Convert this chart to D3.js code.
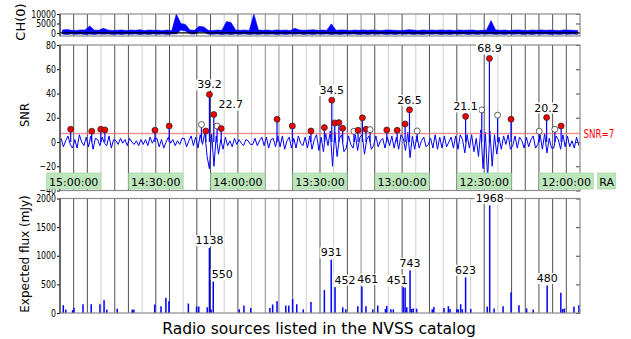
<!DOCTYPE html>
<html>
<head>
<meta charset="utf-8">
<script src="https://cdn.jsdelivr.net/npm/d3@7"></script>
<style>
body { margin: 0; background: #fff; }
svg { display: block; font-family: "DejaVu Sans", Verdana, sans-serif; }
</style>
</head>
<body>
<svg id="chart" width="631" height="339"></svg>
<script>
// RA tick labels (hh:mm:ss) and y ticks
const raLabels = ['15:00:00', '14:30:00', '14:00:00', '13:30:00', '13:00:00', '12:30:00', '12:00:00']
const chTicks = [0, 5000, 10000]
const snrTicks = [-40, -20, 0, 20, 40, 60, 80]
const fluxTicks = [0, 500, 1000, 1500, 2000]
const snrThreshold = 7

// CH(0) raw counts, upper / lower envelope per time bin (15:05 -> 11:55)
const chHi = [
	1500, 1800, 1400, 1300, 1600, 1500, 3700, 1500, 1400, 2500, 1500, 1300,
	1400, 1600, 1300, 1500, 1400, 1700, 1300, 1500, 1400, 1400, 1300, 1500,
	1200, 10000, 5000, 4500, 1500, 1400, 3500, 3200, 1400, 1300, 1500, 1400,
	6000, 5500, 1500, 1400, 1500, 1300, 10000, 1500, 1400, 1500, 1300, 1600,
	1400, 1500, 1300, 2500, 1500, 1400, 1500, 1700, 1400, 1500, 1400, 4800,
	1400, 1600, 1500, 1300, 1500, 1400, 1600, 1400, 1500, 1400, 1300, 1600,
	1500, 1400, 1300, 1400, 1700, 1500, 1300, 1500, 1400, 1500, 1400, 1600,
	1400, 1500, 1300, 1600, 1400, 1500, 1500, 1300, 1400, 1500, 6500, 1600,
	1400, 1500, 1300, 1500, 1600, 1400, 1300, 1500, 1400, 1600, 1400, 1500,
	1400, 1300, 1600, 1500, 1400, 1300
]
const chLo = [
	-600, -800, -500, -700, -500, -800, -600, -800, -500, -700, -500, -800,
	-600, -800, -500, -700, -500, -800, -600, -800, -500, -700, -500, -800,
	-500, -500, 1500, 1000, -500, -600, 800, 500, -600, -700, -500, -800,
	-600, -800, -500, -700, -500, -800, -600, -800, -500, -700, -500, -800,
	-600, -800, -500, -700, -500, -800, -600, -800, -500, -700, -500, -800,
	-600, -800, -500, -700, -500, -800, -600, -800, -500, -700, -500, -800,
	-600, -800, -500, -700, -500, -800, -600, -800, -500, -700, -500, -800,
	-600, -800, -500, -700, -500, -800, -600, -800, -500, -700, -500, -800,
	-600, -800, -500, -700, -500, -800, -600, -800, -500, -700, -500, -800,
	-600, -800, -500, -700, -500, -800
]

// SNR trace, 6 samples per 5 min of RA (15:05 -> 11:55)
const snrTrace = [
	3, -4, 1, 5, -2, -5, 2, -5, 6, 0, -3, 4, -4, 5, -6, 3, 2, -3, 4, -1, -3, 5, -5, 2,
	1, -2, 3, -1, 2, -3, 3, 0, -2, 1, -3, 2, -2, 2, -3, 4, -1, 3, 3, -4, 2, -5, 0, 4,
	-1, 2, -3, 1, -2, 3, 3, -4, 1, 5, -3, 4, -5, 6, -2, 8, -12, -22, 7, -20, 5, -10, 2, -6,
	4, -3, 1, -4, 3, -2, 2, -1, -3, 2, 1, -2, -2, 3, -3, 1, 4, -3, 4, -5, 2, 3, -4, 5,
	-4, 5, -6, 1, 4, -5, 3, -5, 5, -1, -3, 4, -5, 5, -6, 2, 6, -7, 4, -8, 7, -3, 9, -20,
	8, -12, 3, 6, -8, -5, 5, -2, -5, 6, -7, 4, 6, -10, 2, 5, -6, -3, 5, -4, 1, 3, -5, 4,
	-3, 5, -5, 4, -6, 6, 3, -7, 8, -13, 5, -6, 5, -5, 1, 4, -4, -2, 3, -5, 6, -6, 4, -5,
	5, -4, 0, 4, -5, 5, -6, 6, 2, -9, 6, -5, 6, -8, 3, -12, 10, -22, 8, -30, 9, -20, 6, -10,
	4, -6, 5, -2, 6, -6, -3, 5, -5, 4, 1, -5, 4, -4, 2, 5, -5, -2, 6, -6, 7, -9, 3, -5,
	-5, 5, 2, -6, 6, -4, 5, -4, 1, -5, 4, -3
]

// candidate peaks: RA (minutes), SNR, 1 = matched (red) / 0 = open
const peakRA = [901.1, 893.4, 890.1, 888.6, 870.3, 865.1, 853.3, 851.7, 850.4, 848.8,
	847.6, 846.1, 825.7, 820.1, 813.3, 808.4, 805.7, 804.6, 803.1, 801.7,
	797.6, 796.1, 794.5, 793.2, 791.7, 785.6, 781.8, 778.9, 777.3, 774.5,
	756.8, 750.9, 748.1, 745.1, 740.2, 729.9, 727.2, 724.2, 721.9]
const peakSNR = [10.5, 8.9, 10.5, 10.0, 9.7, 13.2, 14.4, 9.1, 39.2, 22.7,
	13.2, 11.1, 18.8, 13.2, 9.1, 11.9, 34.5, 15.7, 16.0, 11.3,
	8.9, 9.7, 19.9, 10.5, 10.2, 9.9, 9.7, 14.9, 26.5, 9.1,
	21.1, 26.5, 68.9, 22.1, 18.8, 8.9, 20.2, 10.5, 13.2]
const peakFound = [1, 1, 1, 1, 1, 1, 0, 1, 1, 1,
	0, 1, 1, 1, 1, 1, 1, 1, 1, 1,
	0, 1, 1, 1, 0, 1, 1, 1, 1, 0,
	1, 0, 1, 0, 1, 0, 1, 0, 1]

// NVSS sources: RA (minutes) and bar height in mJy
const srcRA = [903.8, 902.9, 900.4, 899.9, 896.6, 893.6, 890.4, 888.9, 887.9, 884.1,
	878.6, 878.0, 870.4, 868.1, 866.3, 865.2, 858.1, 855.1, 854.3, 851.2,
	850.4, 849.8, 849.0, 839.5, 837.8, 835.3, 828.3, 827.3, 825.7, 822.5,
	821.4, 820.0, 818.5, 816.1, 813.3, 808.4, 805.9, 804.5, 801.7, 800.6,
	796.2, 794.7, 793.2, 790.7, 788.9, 786.1, 785.6, 784.1, 783.2, 779.6,
	778.9, 778.3, 777.1, 776.5, 775.9, 774.7, 769.0, 768.4, 764.7, 763.1,
	762.5, 760.0, 759.5, 758.6, 758.0, 756.8, 754.9, 748.9, 748.0, 746.4,
	743.1, 740.2, 737.3, 734.5, 732.1, 727.0, 722.0, 721.3, 720.7, 717.2, 715.4]
const srcFlux = [136, 60, 48, 88, 153, 153, 153, 224, 60, 77,
	60, 60, 148, 118, 265, 206, 165, 112, 112, 100,
	1138, 60, 550, 65, 130, 88, 88, 148, 206, 130,
	130, 241, 153, 65, 194, 400, 931, 452, 100, 65,
	118, 461, 118, 65, 130, 70, 124, 65, 65, 451,
	445, 100, 743, 70, 80, 75, 65, 106, 88, 118,
	70, 65, 65, 153, 65, 623, 70, 112, 1880, 80,
	118, 360, 136, 80, 60, 480, 353, 70, 80, 112, 136]
// printed values of the labelled (bright) sources, left to right
const fluxTags = ['1138', '550', '931', '452', '461', '451', '743', '623', '1968', '480']

// layout / style
const gridShade = 'ddlddlddlddldlmmdldldmdldldldldlddddd'
const shadeColor = { d: '#505050', m: '#8e8e8e', l: '#cdcdcd' }
const snrLabelShift = { '22.7': 17 }
const fluxLabelShift = { '550': 9, '452': 10, '461': 6, '451': -6 }
const blue = '#0000ff'

const svg = d3.select('#chart')
const toMin = s => { const [h, m, sec] = s.split(':').map(Number); return h * 60 + m + sec / 60 }
const x = d3.scaleLinear().domain([905, 715]).range([60, 580])
const gridRA = d3.range(900, 719, -5)

const yCh = d3.scaleLinear().domain([-1600, 10000]).range([36, 14])
const ySnr = d3.scaleLinear().domain([-40, 80]).range([190.5, 45])
const yFlux = d3.scaleLinear().domain([0, 2000]).range([313, 198.5])

const panels = [
	{ key: 'ch', y: yCh, ticks: chTicks },
	{ key: 'snr', y: ySnr, ticks: snrTicks },
	{ key: 'flux', y: yFlux, ticks: fluxTicks }
]

// squeeze text horizontally (the figure's lettering is narrow)
const narrow = (sel, k) => sel.each(function () {
	this.setAttribute('textLength', this.getComputedTextLength() * k)
	this.setAttribute('lengthAdjust', 'spacingAndGlyphs')
})

// panel backgrounds + gridlines
panels.forEach(p => {
	const [yb, yt] = p.y.range()
	svg.append('clipPath').attr('id', 'clip-' + p.key)
		.append('rect').attr('x', 60).attr('y', yt).attr('width', 520).attr('height', yb - yt)
	p.plot = svg.append('g').attr('clip-path', `url(#clip-${p.key})`)
	p.plot.selectAll('line.grid')
		.data(gridRA)
		.join('line')
		.attr('x1', d => x(d)).attr('x2', d => x(d))
		.attr('y1', yt).attr('y2', yb)
		.attr('stroke', (d, i) => shadeColor[gridShade[i]])
		.attr('stroke-width', 1)
})

// CH(0): filled band between the envelopes
const pCh = panels[0]
const chW = (905 - 715) / chHi.length
pCh.plot.append('path')
	.datum(chHi.map((h, i) => ({ ra: 905 - (i + 0.5) * chW, hi: h, lo: chLo[i] })))
	.attr('fill', blue)
	.attr('stroke', blue)
	.attr('stroke-width', 0.6)
	.attr('d', d3.area().x(d => x(d.ra)).y0(d => yCh(d.lo)).y1(d => yCh(d.hi)))
pCh.plot.append('line')
	.attr('x1', 60).attr('x2', 580)
	.attr('y1', yCh(0)).attr('y2', yCh(0))
	.attr('stroke', '#000').attr('stroke-width', 1.3)

// SNR trace
const pSnr = panels[1]
const snrW = (905 - 715) / snrTrace.length
pSnr.plot.append('path')
	.datum(snrTrace)
	.attr('fill', 'none')
	.attr('stroke', blue)
	.attr('stroke-width', 1)
	.attr('d', d3.line().x((d, i) => x(905 - (i + 0.5) * snrW)).y(d => ySnr(d)))
pSnr.plot.append('line')
	.attr('x1', 60).attr('x2', 580)
	.attr('y1', ySnr(snrThreshold)).attr('y2', ySnr(snrThreshold))
	.attr('stroke', '#f07070').attr('stroke-opacity', 0.75).attr('stroke-width', 1.5)

const peaks = peakRA.map((ra, i) => ({ ra, snr: peakSNR[i], found: peakFound[i] === 1 }))
pSnr.plot.selectAll('line.stem')
	.data(peaks)
	.join('line')
	.attr('x1', d => x(d.ra)).attr('x2', d => x(d.ra))
	.attr('y1', ySnr(0)).attr('y2', d => ySnr(d.snr))
	.attr('stroke', blue).attr('stroke-width', 1.2)
pSnr.plot.selectAll('circle')
	.data(peaks)
	.join('circle')
	.attr('cx', d => x(d.ra))
	.attr('cy', d => ySnr(d.snr))
	.attr('r', 3)
	.attr('fill', d => d.found ? '#ee0000' : '#fff')
	.attr('stroke', '#222').attr('stroke-width', 0.7)

// expected flux
const pFlux = panels[2]
const sources = srcRA.map((ra, i) => ({ ra, flux: srcFlux[i] }))
pFlux.plot.selectAll('rect')
	.data(sources)
	.join('rect')
	.attr('x', d => x(d.ra) - 0.75)
	.attr('width', 1.5)
	.attr('y', d => yFlux(d.flux))
	.attr('height', d => yFlux(0) - yFlux(d.flux))
	.attr('fill', blue)

// axes and frames
panels.forEach(p => {
	const [yb, yt] = p.y.range()
	const ax = svg.append('g')
		.attr('transform', 'translate(60,0)')
		.attr('font-size', 9.5)
		.call(d3.axisLeft(p.y).tickValues(p.ticks).tickSize(3).tickPadding(1).tickFormat(d3.format('d')))
	ax.select('.domain').remove()
	ax.selectAll('text').attr('font-family', '"DejaVu Sans", Verdana, sans-serif').attr('fill', '#000')
		.call(narrow, 0.78)
	const rt = svg.append('g')
		.attr('transform', 'translate(580,0)')
		.call(d3.axisLeft(p.y).tickValues(p.ticks).tickSize(4).tickFormat(''))
	rt.select('.domain').remove()
	rt.selectAll('line').attr('stroke', '#444')
	svg.append('rect')
		.attr('x', 60).attr('y', yt).attr('width', 520).attr('height', yb - yt)
		.attr('fill', 'none').attr('stroke', '#8a8a8a').attr('stroke-width', 1.2)
	svg.append('line')
		.attr('x1', 60).attr('x2', 60).attr('y1', yt).attr('y2', yb)
		.attr('stroke', '#333').attr('stroke-width', 1.2)
})

// value tags with white backing
const tag = (tx, ty, text) => {
	const g = svg.append('g')
	const t = g.append('text')
		.attr('x', tx).attr('y', ty)
		.attr('text-anchor', 'middle')
		.attr('font-size', 11)
		.text(text)
	const b = t.node().getBBox()
	g.insert('rect', 'text')
		.attr('x', b.x - 1).attr('y', b.y + 1)
		.attr('width', b.width + 2).attr('height', b.height - 2)
		.attr('fill', '#fff')
}

peaks.filter(d => d.found && d.snr >= 20).forEach(d => {
	const s = d3.format('.1f')(d.snr)
	tag(x(d.ra) + (snrLabelShift[s] || 0), ySnr(d.snr) - 6, s)
})
sources.filter(d => d.flux >= 450).forEach((d, i) => {
	const s = fluxTags[i]
	tag(x(d.ra) + (fluxLabelShift[s] || 0), yFlux(d.flux) - 3.5, s)
})

// threshold label
svg.append('text')
	.attr('x', 583.5).attr('y', ySnr(snrThreshold) + 4.5)
	.attr('font-size', 12)
	.attr('fill', '#ff0000')
	.text('SNR=' + snrThreshold)
	.call(narrow, 0.72)

// RA boxes over the lower part of the SNR panel
const raBox = (cx, w, text) => {
	svg.append('rect')
		.attr('x', cx - w / 2).attr('y', 173).attr('width', w).attr('height', 16)
		.attr('fill', '#bde6bd').attr('stroke', '#a6d8a6').attr('stroke-width', 0.8)
	svg.append('text')
		.attr('x', cx).attr('y', 185.5)
		.attr('text-anchor', 'middle')
		.attr('font-size', 11)
		.text(text)
}
raLabels.forEach(s => raBox(x(toMin(s)), 54, s))
raBox(606.7, 18, 'RA')

// axis titles
const yTitle = (tx, ty, size, text) => {
	svg.append('text')
		.attr('transform', `translate(${tx},${ty}) rotate(-90)`)
		.attr('text-anchor', 'middle')
		.attr('font-size', size)
		.text(text)
}
yTitle(25, 22, 13, 'CH(0)')
yTitle(28.5, 115, 11.5, 'SNR')
yTitle(28.5, 254, 12, 'Expected flux (mJy)')

svg.append('text')
	.attr('x', 319).attr('y', 334)
	.attr('text-anchor', 'middle')
	.attr('font-size', 15.5)
	.text('Radio sources listed in the NVSS catalog')
</script>
</body>
</html>
